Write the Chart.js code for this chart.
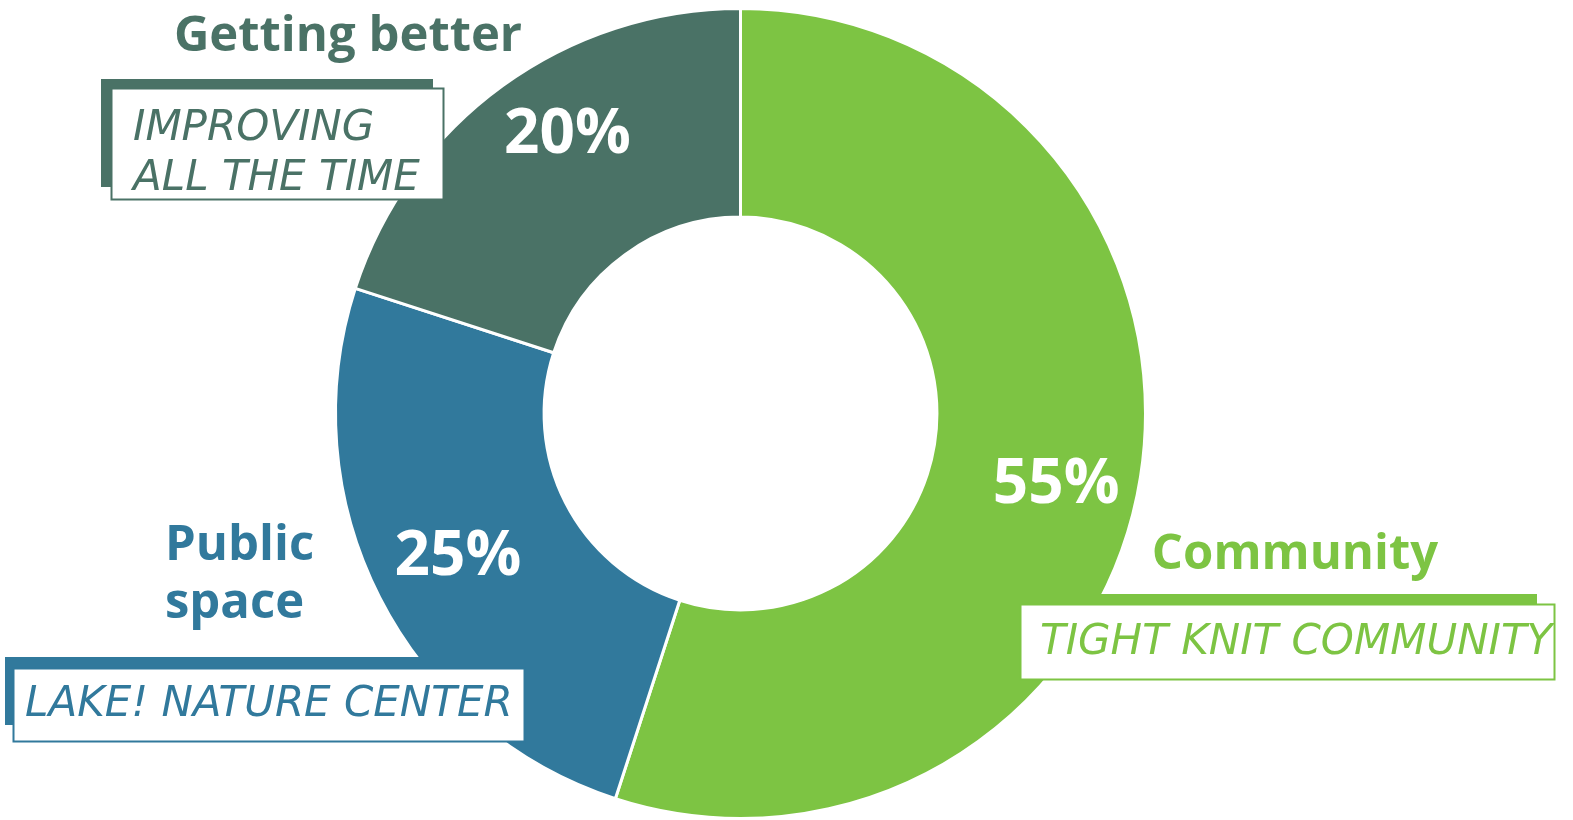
<!DOCTYPE html>
<html>
<head>
<meta charset="utf-8">
<script src="https://cdn.jsdelivr.net/npm/chart.js@4"></script>
<style>
    html, body { margin: 0; padding: 0; background: #ffffff; }
    #wrap { width: 1573px; height: 820px; position: relative; }
</style>
</head>
<body>
<div id="wrap"><canvas id="chart" width="1573" height="820"></canvas></div>
<script>
// data
const categories = ["Community", "Public space", "Getting better"];
const values = [55, 25, 20];
const notes = [["TIGHT KNIT COMMUNITY"], ["LAKE! NATURE CENTER"], ["IMPROVING", "ALL THE TIME"]];
const colors = ["#7dc443", "#31799c", "#4a7266"];

// where the title + note box for each slice sits (layout only)
const callouts = [
    { title: ["Community"], tx: 1295, ty: 555, align: "center", nudge: [-2, 22],
      back: [1010, 594, 527, 68], front: [1020, 604, 535, 76], noteX: 1040, noteY: [643] },
    { title: ["Public", "space"], tx: 165, ty: 546, align: "left", nudge: [4, -2],
      back: [5, 657, 510, 68], front: [13, 668, 512, 74], noteX: 25, noteY: [705] },
    { title: ["Getting better"], tx: 348, ty: 37, align: "center", nudge: [16, -18],
      back: [101, 79, 332, 108], front: [111, 88, 333, 112], noteX: 133, noteY: [129, 179] }
];

const labelPlugin = {
    id: "labels",
    afterDraw(chart) {
        const ctx = chart.ctx;
        const arcs = chart.getDatasetMeta(0).data;
        const total = values.reduce((a, b) => a + b, 0);

        // percentages inside the ring
        arcs.forEach((arc, i) => {
            const mid = (arc.startAngle + arc.endAngle) / 2;
            const r = arc.innerRadius + 0.6 * (arc.outerRadius - arc.innerRadius);
            const x = arc.x + Math.cos(mid) * r + callouts[i].nudge[0];
            const y = arc.y + Math.sin(mid) * r + callouts[i].nudge[1];
            ctx.save();
            ctx.fillStyle = "#ffffff";
            ctx.font = "bold 62px 'Open Sans'";
            ctx.textAlign = "center";
            ctx.textBaseline = "middle";
            ctx.fillText(Math.round(values[i] / total * 100) + "%", x, y);
            ctx.restore();
        });

        // titles and note boxes
        callouts.forEach((c, i) => {
            ctx.save();
            ctx.fillStyle = colors[i];
            ctx.font = "bold 49px 'Open Sans'";
            ctx.textAlign = c.align;
            ctx.textBaseline = "middle";
            c.title.forEach((t, k) => ctx.fillText(t, c.tx, c.ty + k * 58));

            ctx.fillStyle = colors[i];
            ctx.fillRect(c.back[0], c.back[1], c.back[2], c.back[3]);
            ctx.fillStyle = "#ffffff";
            ctx.fillRect(c.front[0], c.front[1], c.front[2], c.front[3]);
            ctx.strokeStyle = colors[i];
            ctx.lineWidth = 2;
            ctx.strokeRect(c.front[0] + 0.5, c.front[1] + 0.5, c.front[2] - 1, c.front[3] - 1);

            ctx.fillStyle = colors[i];
            ctx.font = "italic 42px 'DejaVu Sans'";
            ctx.textAlign = "left";
            ctx.textBaseline = "middle";
            notes[i].forEach((t, k) => ctx.fillText(t, c.noteX, c.noteY[k]));
            ctx.restore();
        });
    }
};

const ctx = document.getElementById("chart").getContext("2d");
new Chart(ctx, {
    type: "doughnut",
    data: {
        labels: categories,
        datasets: [{
            data: values,
            backgroundColor: colors,
            borderColor: "#ffffff",
            borderWidth: 3
        }]
    },
    options: {
        responsive: false,
        animation: false,
        cutout: "48.5%",
        layout: { padding: { left: 334, right: 426, top: 7, bottom: 0 } },
        plugins: {
            legend: { display: false },
            tooltip: { enabled: false }
        }
    },
    plugins: [labelPlugin]
});
</script>
</body>
</html>
